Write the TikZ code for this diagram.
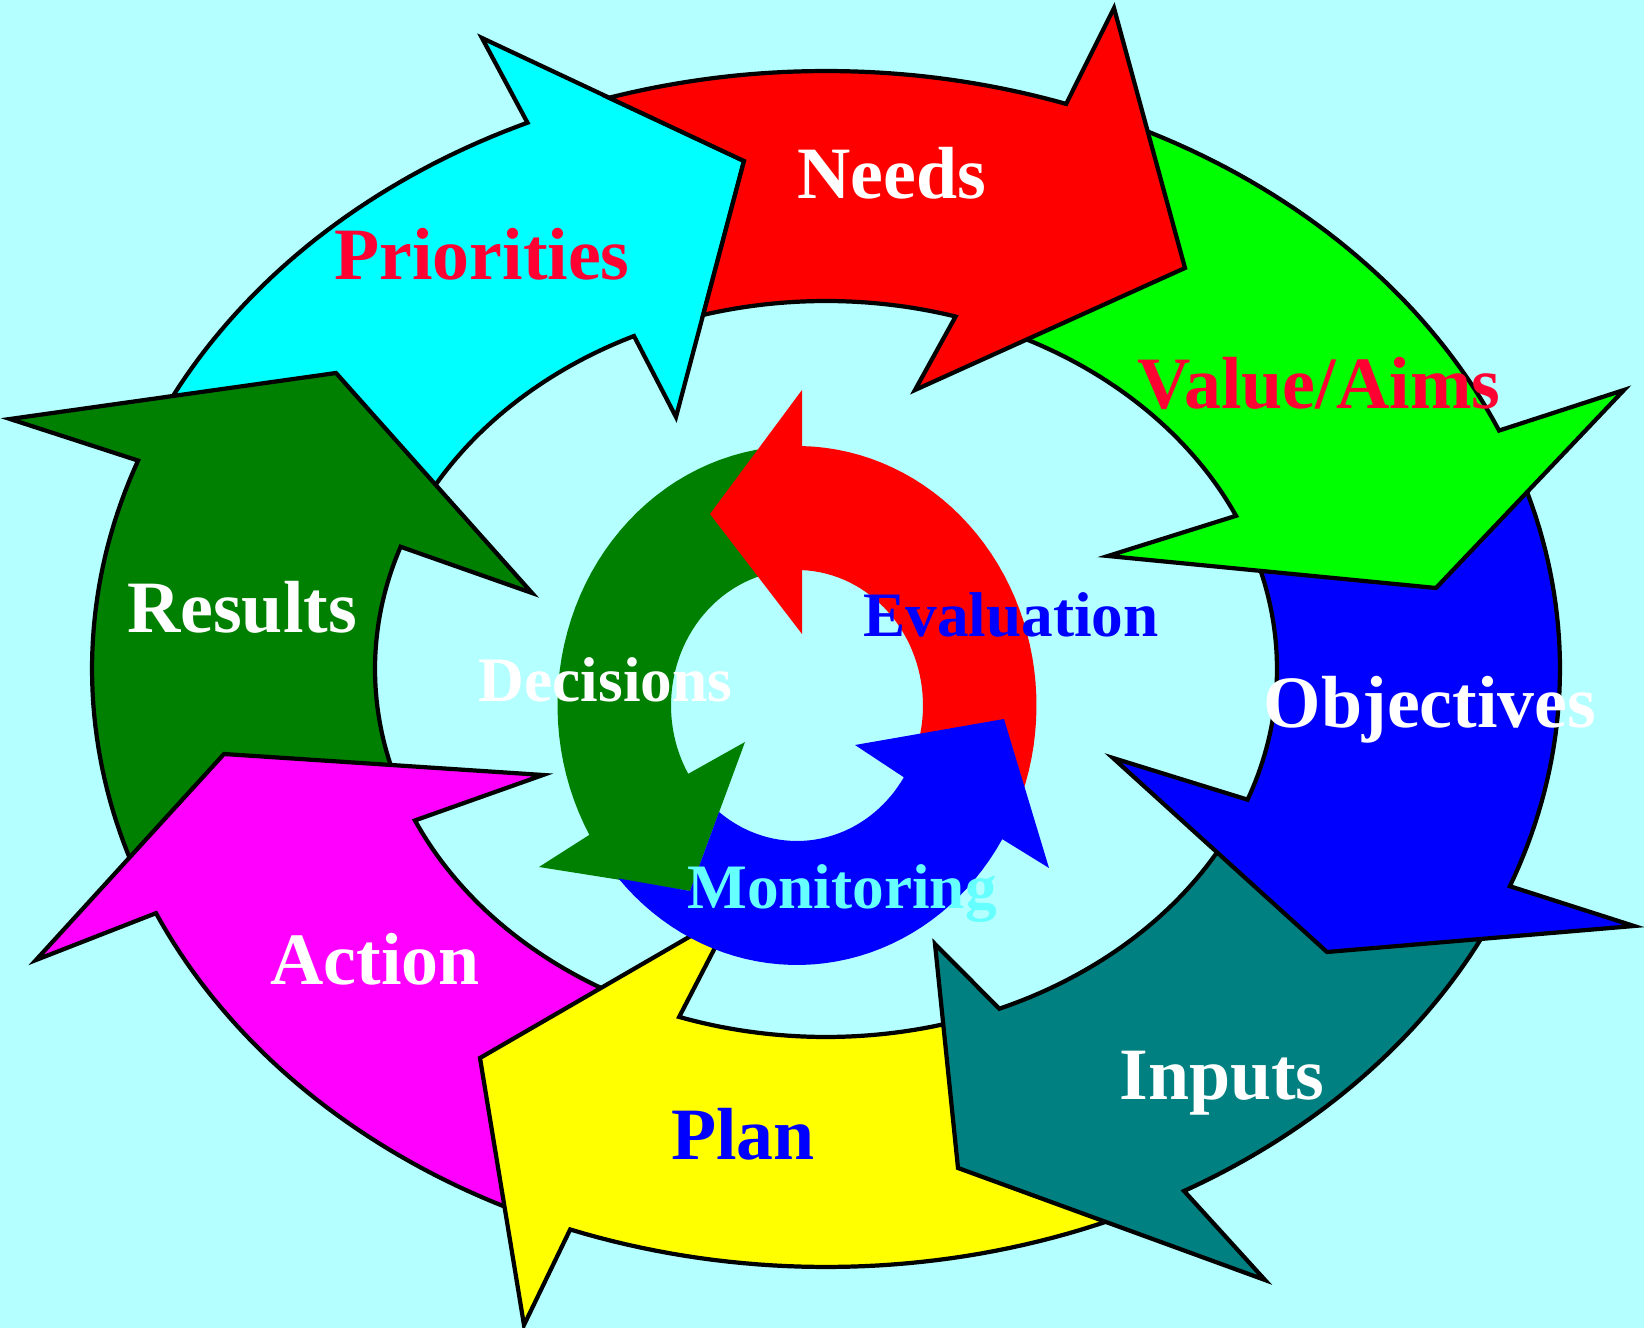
\documentclass[tikz,border=0pt]{standalone}
\usepackage{fontspec}
\setmainfont{Liberation Serif}
\usepackage{tikz}
\definecolor{bgcyan}{RGB}{180,255,255}
\definecolor{dkgreen}{RGB}{0,128,0}
\definecolor{crimson}{RGB}{255,0,51}
\definecolor{paleaqua}{RGB}{102,255,255}
\definecolor{aqua}{RGB}{0,255,255}
\definecolor{fuchsia}{RGB}{255,0,255}
\definecolor{lemon}{RGB}{255,255,0}
\definecolor{lime}{RGB}{0,255,0}
\definecolor{pureblue}{RGB}{0,0,255}
\definecolor{purered}{RGB}{255,0,0}
\definecolor{darkteal}{RGB}{0,128,128}

\begin{document}
\begin{tikzpicture}[x=0.01cm, y=-0.01cm,
        bigarrow/.style={draw=black, line width=1.2pt, line join=miter},
        biglabel/.style={font=\bfseries\fontsize{21}{21}\selectfont, anchor=base, inner sep=0pt},
        smalllabel/.style={font=\bfseries\fontsize{18}{18}\selectfont, anchor=base, inner sep=0pt}]
            \useasboundingbox (0,0) rectangle (1644,1328);
            \fill [bgcyan] (0,0) rectangle (1644,1328);

            \foreach \col/\ta/\tb/\tc/\td/\ax/\ay/\bx/\by/\cx/\cy in {%
                aqua/155/155/114/115.2/482/38/744/161/676/417,%
                dkgreen/200/200/159.6/160.6/10/419/336/373/532/593,%
                fuchsia/245/245/204.1/204.3/36/960/224/754/543/775,%
                lemon/295/288/249.6/251/524/1325/480/1058/734/911,%
                darkteal/335/335/299.2/292.6/1265/1280/958/1168/935/944,%
                pureblue/380/380/338.7/339.2/1634/926/1327/952/1113/758,%
                lime/67/67/23.5/24.6/1624/390/1436/588/1108/556%
            } {
                \draw [bigarrow, fill=\col]
                    plot [domain=\ta:\tc, samples=40] ({826+734*cos(\x)}, {669-598*sin(\x)})
                    -- (\ax,\ay) -- (\bx,\by) -- (\cx,\cy)
                    -- plot [domain=\td:\tb, samples=40] ({826+451*cos(\x)}, {669-368*sin(\x)})
                    -- cycle;
            }
            \draw [bigarrow, fill=purered]
                plot [domain=107.2:70.9, samples=40] ({826+734*cos(\x)}, {669-598*sin(\x)})
                -- (1114,8) -- (1185,268) -- (915,390)
                -- plot [domain=73.3:105.8, samples=40] ({826+451*cos(\x)}, {669-368*sin(\x)})
                -- (744,161) -- cycle;

            \foreach \col/\ta/\tb/\tc/\td/\ax/\ay/\bx/\by/\cx/\cy in {%
                dkgreen/97/97/209.9/210.3/539/867/690/891/745/742,%
                purered/-20/-20/88.8/87.7/802/390/710/514/802/634%
            } {
                \fill [\col]
                    plot [domain=\ta:\tc, samples=40] ({797+239.5*cos(\x)}, {705.5-259.5*sin(\x)})
                    -- (\ax,\ay) -- (\bx,\by) -- (\cx,\cy)
                    -- plot [domain=\td:\tb, samples=40] ({797+126*cos(\x)}, {705.5-135.5*sin(\x)})
                    -- cycle;
            }
            \fill [pureblue]
                plot [domain=221.8:329, samples=40] ({797+239.5*cos(\x)}, {705.5-259.5*sin(\x)})
                -- (1049,868) -- (1004,719) -- (855,745)
                -- plot [domain=328:231.8, samples=40] ({797+126*cos(\x)}, {705.5-135.5*sin(\x)})
                -- (690,891) -- cycle;

            \node [biglabel, text=crimson] (priorities) at (482,280) {Priorities};
            \node [biglabel, text=white] (needs) at (892,199) {Needs};
            \node [biglabel, text=crimson] (valueaims) at (1319,409) {Value/Aims};
            \node [biglabel, text=white] (objectives) at (1430,728) {Objectives};
            \node [biglabel, text=white] (inputs) at (1222,1100) {Inputs};
            \node [biglabel, text=pureblue] (plan) at (743,1160) {Plan};
            \node [biglabel, text=white] (action) at (375,985) {Action};
            \node [biglabel, text=white] (results) at (242,633) {Results};
            \node [smalllabel, text=pureblue] (evaluation) at (1011,637) {Evaluation};
            \node [smalllabel, text=white] (decisions) at (605.5,702) {Decisions};
            \node [smalllabel, text=paleaqua] (monitoring) at (842,909) {Monitoring};

        \end{tikzpicture}
\end{document}
